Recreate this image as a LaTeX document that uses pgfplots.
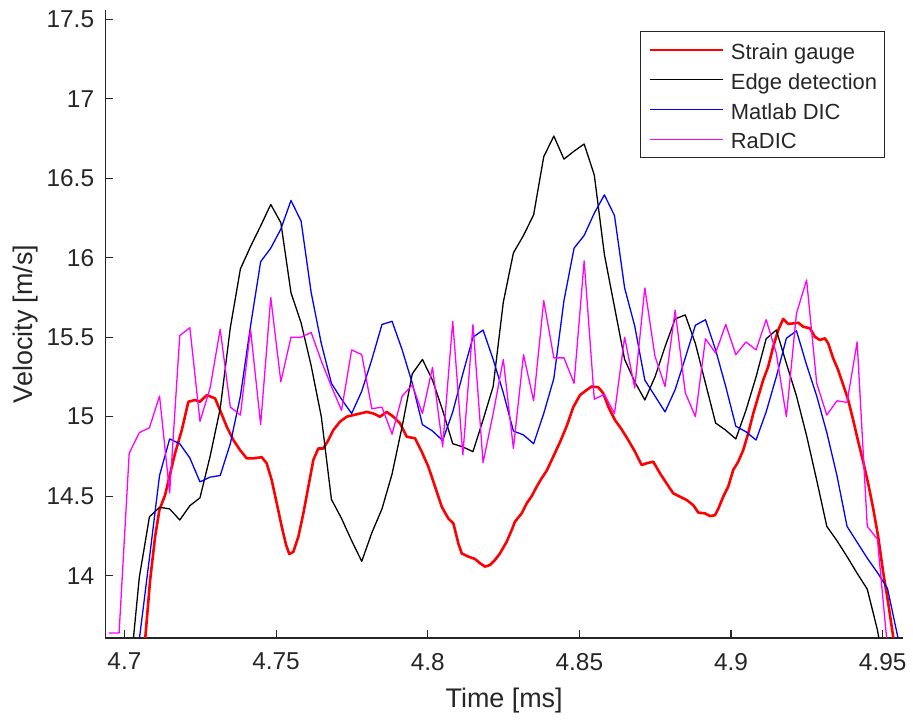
\documentclass[border=0pt]{standalone}
\usepackage{fontspec}
\setmainfont{Liberation Sans}
\usepackage{pgfplots}
\pgfplotsset{compat=1.18}
\definecolor{axgray}{rgb}{0.15,0.15,0.15}
\definecolor{mred}{rgb}{1,0,0}
\definecolor{mblack}{rgb}{0,0,0}
\definecolor{mblue}{rgb}{0,0,1}
\definecolor{mmag}{rgb}{1,0,1}
\begin{document}
\begin{tikzpicture}
\begin{axis}[
 scale only axis, width=797.7bp, height=628bp,
 xmin=4.6937, xmax=4.9567, ymin=13.608, ymax=17.558,
 axis lines=left, axis line style={-, draw=axgray, line width=1.1bp},
 tick align=inside, major tick length=8bp,
 tick style={draw=axgray, line width=1.1bp},
 xtick={4.7,4.75,4.8,4.85,4.9,4.95},
 xticklabels={4.7,4.75,4.8,4.85,4.9,4.95},
 ytick={14,14.5,15,15.5,16,16.5,17,17.5},
 yticklabels={14,14.5,15,15.5,16,16.5,17,17.5},
 ticklabel style={font=\fontsize{24.5}{28}\selectfont, text=axgray, inner sep=0pt},
 yticklabel style={xshift=-11bp},
 xticklabel style={yshift=-15bp},
 xlabel={Time [ms]}, ylabel={Velocity [m/s]},
 label style={font=\fontsize{27}{32}\selectfont, text=axgray},
 xlabel style={at={(axis description cs:0.5,-0.1099)}, anchor=base},
 ylabel style={at={(axis description cs:-0.0913,0.5)}, anchor=base},
 legend style={at={(0.9775,0.9666)}, anchor=north east, draw=axgray, line width=1bp,
   fill=white, inner xsep=7.4bp, inner ysep=4bp, font=\fontsize{22}{26}\selectfont,
   text=axgray, nodes={inner sep=0pt, text height=24.3bp, text depth=5bp},
   row sep=0.4bp, column sep=6.4bp},
 legend cell align=left,
 legend image code/.code={\draw[#1] (0bp,0bp) -- (73.6bp,0bp);},
]
\addplot[draw=mred, line width=2.6bp, line join=round] coordinates {
(4.70682,13.595)(4.70847,13.97)(4.71012,14.245)(4.71154,14.413)(4.71341,14.507)
(4.71506,14.64)(4.71671,14.77)(4.71892,14.916)(4.72109,15.094)(4.72330,15.105)
(4.72495,15.094)(4.72716,15.136)(4.72989,15.115)(4.73154,15.04)(4.73375,14.937)
(4.73593,14.853)(4.73813,14.79)(4.74034,14.738)(4.74252,14.738)(4.74529,14.745)
(4.74693,14.706)(4.74858,14.6)(4.75023,14.455)(4.75188,14.308)(4.75330,14.193)
(4.75438,14.136)(4.75570,14.15)(4.75735,14.245)(4.75900,14.392)(4.76065,14.56)
(4.76229,14.728)(4.76394,14.80)(4.76559,14.80)(4.76724,14.853)(4.76889,14.916)
(4.77109,14.969)(4.77330,15.0)(4.77548,15.01)(4.77769,15.02)(4.77989,15.03)
(4.78207,15.02)(4.78428,15.0)(4.78649,15.03)(4.78866,15.0)(4.79087,14.958)
(4.79308,14.874)(4.79581,14.864)(4.79802,14.78)(4.80020,14.686)(4.80241,14.56)
(4.80461,14.434)(4.80679,14.36)(4.80844,14.329)(4.81009,14.203)(4.81121,14.14)
(4.81338,14.12)(4.81559,14.105)(4.81724,14.078)(4.81889,14.057)(4.82053,14.067)
(4.82218,14.099)(4.82383,14.14)(4.82604,14.214)(4.82769,14.287)(4.82877,14.34)
(4.83098,14.392)(4.83263,14.455)(4.83428,14.5)(4.83593,14.56)(4.83757,14.613)
(4.83922,14.66)(4.84140,14.749)(4.84361,14.84)(4.84581,14.94)(4.84799,15.06)
(4.85020,15.136)(4.85241,15.168)(4.85405,15.19)(4.85623,15.185)(4.85788,15.147)
(4.85953,15.063)(4.86173,14.979)(4.86394,14.92)(4.86612,14.853)(4.86833,14.78)
(4.87053,14.696)(4.87218,14.707)(4.87436,14.717)(4.87657,14.644)(4.87877,14.58)
(4.88095,14.518)(4.88316,14.497)(4.88537,14.476)(4.88754,14.444)(4.88919,14.397)
(4.89140,14.392)(4.89305,14.375)(4.89469,14.38)(4.89578,14.42)(4.89743,14.497)
(4.89908,14.56)(4.90073,14.665)(4.90237,14.717)(4.90402,14.79)(4.90567,14.895)
(4.90732,15.02)(4.90897,15.126)(4.91061,15.231)(4.91226,15.315)(4.91391,15.44)
(4.91556,15.545)(4.91721,15.615)(4.91885,15.583)(4.92050,15.587)(4.92215,15.591)
(4.92380,15.566)(4.92601,15.556)(4.92765,15.503)(4.92930,15.482)(4.93095,15.493)
(4.93204,15.461)(4.93369,15.367)(4.93533,15.293)(4.93698,15.2)(4.93863,15.105)
(4.94028,14.979)(4.94193,14.843)(4.94357,14.717)(4.94522,14.58)(4.94687,14.423)
(4.94852,14.245)(4.95017,14.02)(4.95181,13.83)(4.95346,13.617)(4.95501,13.40)
};
\addlegendentry{Strain gauge}
\addplot[draw=mblack, line width=1.3bp, line join=round] coordinates {
(4.70158,13.33)(4.70492,13.99)(4.70825,14.37)(4.71158,14.43)(4.71492,14.42)
(4.71825,14.35)(4.72158,14.44)(4.72492,14.49)(4.72825,14.75)(4.73158,15.05)
(4.73492,15.56)(4.73825,15.93)(4.74158,16.07)(4.74492,16.20)(4.74825,16.335)
(4.75158,16.22)(4.75492,15.78)(4.75825,15.59)(4.76158,15.32)(4.76492,15.00)
(4.76825,14.48)(4.77158,14.36)(4.77492,14.22)(4.77825,14.09)(4.78158,14.27)
(4.78492,14.42)(4.78825,14.64)(4.79158,14.94)(4.79492,15.27)(4.79825,15.36)
(4.80158,15.23)(4.80492,15.04)(4.80825,14.83)(4.81158,14.81)(4.81492,14.78)
(4.81825,14.98)(4.82158,15.19)(4.82492,15.72)(4.82825,16.03)(4.83158,16.14)
(4.83492,16.27)(4.83825,16.635)(4.84158,16.765)(4.84492,16.62)(4.84825,16.67)
(4.85158,16.715)(4.85492,16.52)(4.85825,16.02)(4.86158,15.69)(4.86492,15.36)
(4.86825,15.22)(4.87158,15.105)(4.87492,15.25)(4.87825,15.44)(4.88158,15.615)
(4.88492,15.64)(4.88825,15.46)(4.89158,15.21)(4.89492,14.96)(4.89825,14.915)
(4.90158,14.86)(4.90492,15.04)(4.90825,15.25)(4.91158,15.49)(4.91492,15.545)
(4.91825,15.335)(4.92158,15.13)(4.92492,14.88)(4.92825,14.60)(4.93158,14.31)
(4.93492,14.22)(4.93825,14.12)(4.94158,14.015)(4.94492,13.915)(4.94825,13.66)
(4.95158,13.3)
};
\addlegendentry{Edge detection}
\addplot[draw=mblue, line width=1.3bp, line join=round] coordinates {
(4.70158,13.0)(4.70492,13.60)(4.70825,14.11)(4.71158,14.63)(4.71492,14.86)
(4.71825,14.83)(4.72158,14.74)(4.72492,14.59)(4.72825,14.62)(4.73158,14.63)
(4.73492,14.83)(4.73825,15.13)(4.74158,15.57)(4.74492,15.975)(4.74825,16.06)
(4.75158,16.18)(4.75492,16.36)(4.75825,16.23)(4.76158,15.78)(4.76492,15.46)
(4.76825,15.21)(4.77158,15.11)(4.77492,15.02)(4.77825,15.16)(4.78158,15.36)
(4.78492,15.58)(4.78825,15.60)(4.79158,15.42)(4.79492,15.21)(4.79825,14.95)
(4.80158,14.91)(4.80492,14.85)(4.80825,15.03)(4.81158,15.27)(4.81492,15.50)
(4.81825,15.545)(4.82158,15.36)(4.82492,15.15)(4.82825,14.91)(4.83158,14.885)
(4.83492,14.83)(4.83825,15.02)(4.84158,15.24)(4.84492,15.73)(4.84825,16.06)
(4.85158,16.14)(4.85492,16.28)(4.85825,16.395)(4.86158,16.265)(4.86492,15.81)
(4.86825,15.57)(4.87158,15.23)(4.87492,15.13)(4.87825,15.03)(4.88158,15.17)
(4.88492,15.37)(4.88825,15.575)(4.89158,15.61)(4.89492,15.42)(4.89825,15.19)
(4.90158,14.94)(4.90492,14.905)(4.90825,14.853)(4.91158,15.03)(4.91492,15.25)
(4.91825,15.493)(4.92158,15.54)(4.92492,15.325)(4.92825,15.13)(4.93158,14.90)
(4.93492,14.63)(4.93825,14.31)(4.94158,14.21)(4.94492,14.11)(4.94825,14.02)
(4.95158,13.92)(4.95492,13.62)(4.95825,13.3)
};
\addlegendentry{Matlab DIC}
\addplot[draw=mmag, line width=1.3bp, line join=round] coordinates {
(4.69492,13.64)(4.69825,13.64)(4.70158,14.77)(4.70492,14.90)(4.70825,14.93)
(4.71158,15.13)(4.71492,14.52)(4.71825,15.51)(4.72158,15.56)(4.72492,14.97)
(4.72825,15.18)(4.73158,15.55)(4.73492,15.06)(4.73825,15.01)(4.74158,15.55)
(4.74492,14.95)(4.74825,15.75)(4.75158,15.22)(4.75492,15.50)(4.75825,15.50)
(4.76158,15.53)(4.76492,15.35)(4.76825,15.19)(4.77158,15.04)(4.77492,15.42)
(4.77825,15.39)(4.78158,15.05)(4.78492,15.06)(4.78825,14.89)(4.79158,15.13)
(4.79492,15.20)(4.79825,15.02)(4.80158,15.31)(4.80492,14.81)(4.80825,15.60)
(4.81158,14.76)(4.81492,15.58)(4.81825,14.71)(4.82158,15.02)(4.82492,15.36)
(4.82825,14.80)(4.83158,15.39)(4.83492,15.10)(4.83825,15.73)(4.84158,15.37)
(4.84492,15.37)(4.84825,15.21)(4.85158,15.98)(4.85492,15.11)(4.85825,15.14)
(4.86158,15.02)(4.86492,15.50)(4.86825,15.18)(4.87158,15.81)(4.87492,15.38)
(4.87825,15.19)(4.88158,15.67)(4.88492,15.15)(4.88825,15.00)(4.89158,15.49)
(4.89492,15.40)(4.89825,15.58)(4.90158,15.39)(4.90492,15.47)(4.90825,15.42)
(4.91158,15.61)(4.91492,15.40)(4.91825,15.00)(4.92158,15.65)(4.92492,15.86)
(4.92825,15.21)(4.93158,15.01)(4.93492,15.10)(4.93825,15.09)(4.94158,15.47)
(4.94492,14.31)(4.94825,14.23)(4.95158,13.55)
};
\addlegendentry{RaDIC}
\end{axis}
\pgfresetboundingbox
\path[use as bounding box] (-105.3bp,-84bp) rectangle (807.7bp,638bp);
\end{tikzpicture}
\end{document}
